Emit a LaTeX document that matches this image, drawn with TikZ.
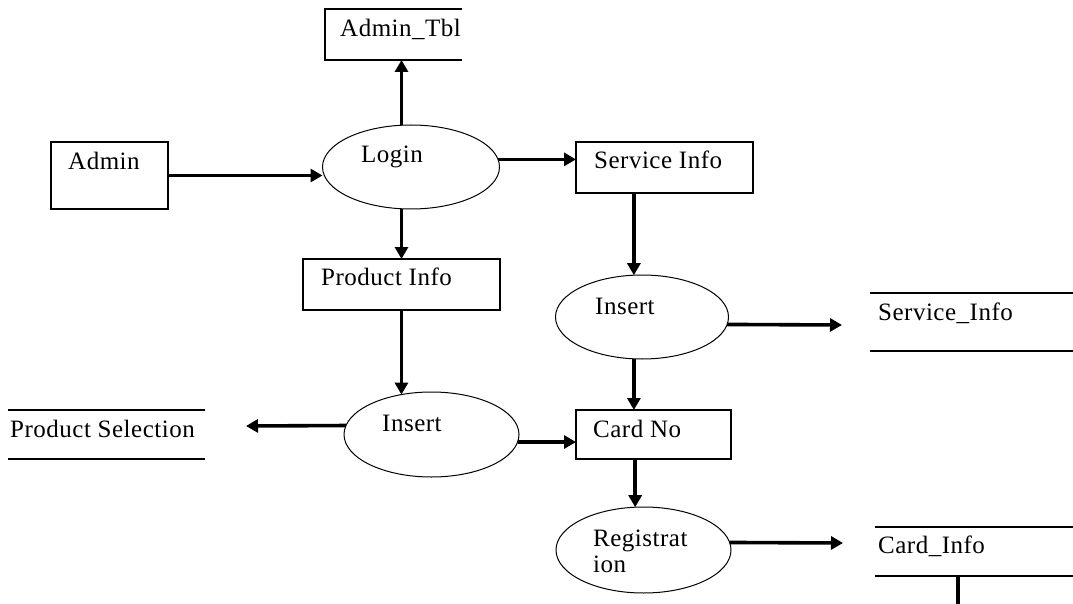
\documentclass[tikz,border=0pt]{standalone}
\usepackage{fontspec}
\setmainfont{Liberation Serif}[LetterSpace=2]
\usetikzlibrary{shapes.geometric,arrows.meta}

\tikzset{
  entity/.style={draw, line width=1.5pt, rectangle, outer sep=0pt, inner sep=0pt},
  process/.style={draw, line width=1pt, ellipse, outer sep=0pt, inner sep=0pt},
  store/.style={rectangle, outer sep=0pt, inner sep=0pt},
  flow/.style={line width=3.6pt, -{Triangle[length=12pt,width=13pt]}},
  plainflow/.style={line width=3.6pt},
  lbl/.style={anchor=base west, inner sep=0pt, font=\fontsize{25}{30}\selectfont},
}

\begin{document}
\begin{tikzpicture}[x=1pt, y=-1pt]
\useasboundingbox (0,0) rectangle (1073,604);

% external entities and data tables
\node[store, minimum width=137pt, minimum height=51pt] (admintbl) at (393.5,34.5) {};
\draw[line width=1.5pt] (admintbl.north east) -- (admintbl.north west)
  -- (admintbl.south west) -- (admintbl.south east);
\node[entity, minimum width=117pt, minimum height=67pt] (admin) at (109.5,175.5) {};

% processes and intermediate data
\node[process, minimum width=177pt, minimum height=84pt] (login) at (411,167) {};
\node[entity, minimum width=177pt, minimum height=51pt] (svcinfo) at (664.5,167.5) {};
\node[entity, minimum width=197pt, minimum height=51pt] (pinfo) at (401.5,284.5) {};
\node[process, minimum width=173pt, minimum height=84pt] (insertr) at (642,317) {};
\node[process, minimum width=175pt, minimum height=85pt] (insertl) at (431.5,434.5) {};
\node[entity, minimum width=155pt, minimum height=49pt] (cardno) at (653.5,434.5) {};
\node[process, minimum width=175pt, minimum height=86pt] (reg) at (643.5,550) {};

% data stores (open at both ends)
\node[store, minimum width=203pt, minimum height=58pt] (svcstore) at (971.5,322) {};
\node[store, minimum width=197pt, minimum height=49pt] (prodsel) at (106.5,434.5) {};
\node[store, minimum width=198pt, minimum height=49pt] (cardstore) at (974,551.5) {};
\foreach \s in {svcstore,prodsel,cardstore}{
  \draw[line width=1.5pt] (\s.north west) -- (\s.north east);
  \draw[line width=1.5pt] (\s.south west) -- (\s.south east);
}

% labels
\node[lbl] at (340,37) {Admin\_Tbl};
\node[lbl] at (68,170) {Admin};
\node[lbl] at (361,163) {Login};
\node[lbl] at (594,169) {Service Info};
\node[lbl] at (321,285) {Product Info};
\node[lbl] at (595,314) {Insert};
\node[lbl] at (878,320) {Service\_Info};
\node[lbl] at (10,437) {Product Selection};
\node[lbl] at (382,431) {Insert};
\node[lbl] at (593,437) {Card No};
\node[lbl] at (593,546) {Registrat};
\node[lbl] at (593,572) {ion};
\node[lbl] at (878,553) {Card\_Info};

% free ends of flows
\coordinate (svcend) at (842,325);
\coordinate (prodend) at (246,426);
\coordinate (cardend) at (843,543);
\coordinate (cardout) at (958,604);

% flows
\draw[flow] (admin.east) -- (admin.east -| login.west);
\draw[flow] (login.north -| pinfo.north) -- (admintbl.south -| pinfo.north);
\draw[flow] (login.5) -- (login.5 -| svcinfo.west);
\draw[flow] (login.south -| pinfo.north) -- (pinfo.north);
\draw[flow] (svcinfo.south -| insertr.101) -- (insertr.101);
\draw[flow] (pinfo.south -| insertl.127) -- (insertl.127);
\draw[flow] (insertr.-5) -- (svcend);
\draw[flow] (insertr.-101) -- (insertr.-101 |- cardno.north);
\draw[flow] (insertl.174) -- (prodend);
\draw[flow] (insertl.-5) -- (insertl.-5 -| cardno.west);
\draw[flow] (reg.101 |- cardno.south) -- (reg.101);
\draw[flow] (reg.5) -- (cardend);
\draw[plainflow] (cardstore.south west -| cardout) -- (cardout);
\end{tikzpicture}
\end{document}
